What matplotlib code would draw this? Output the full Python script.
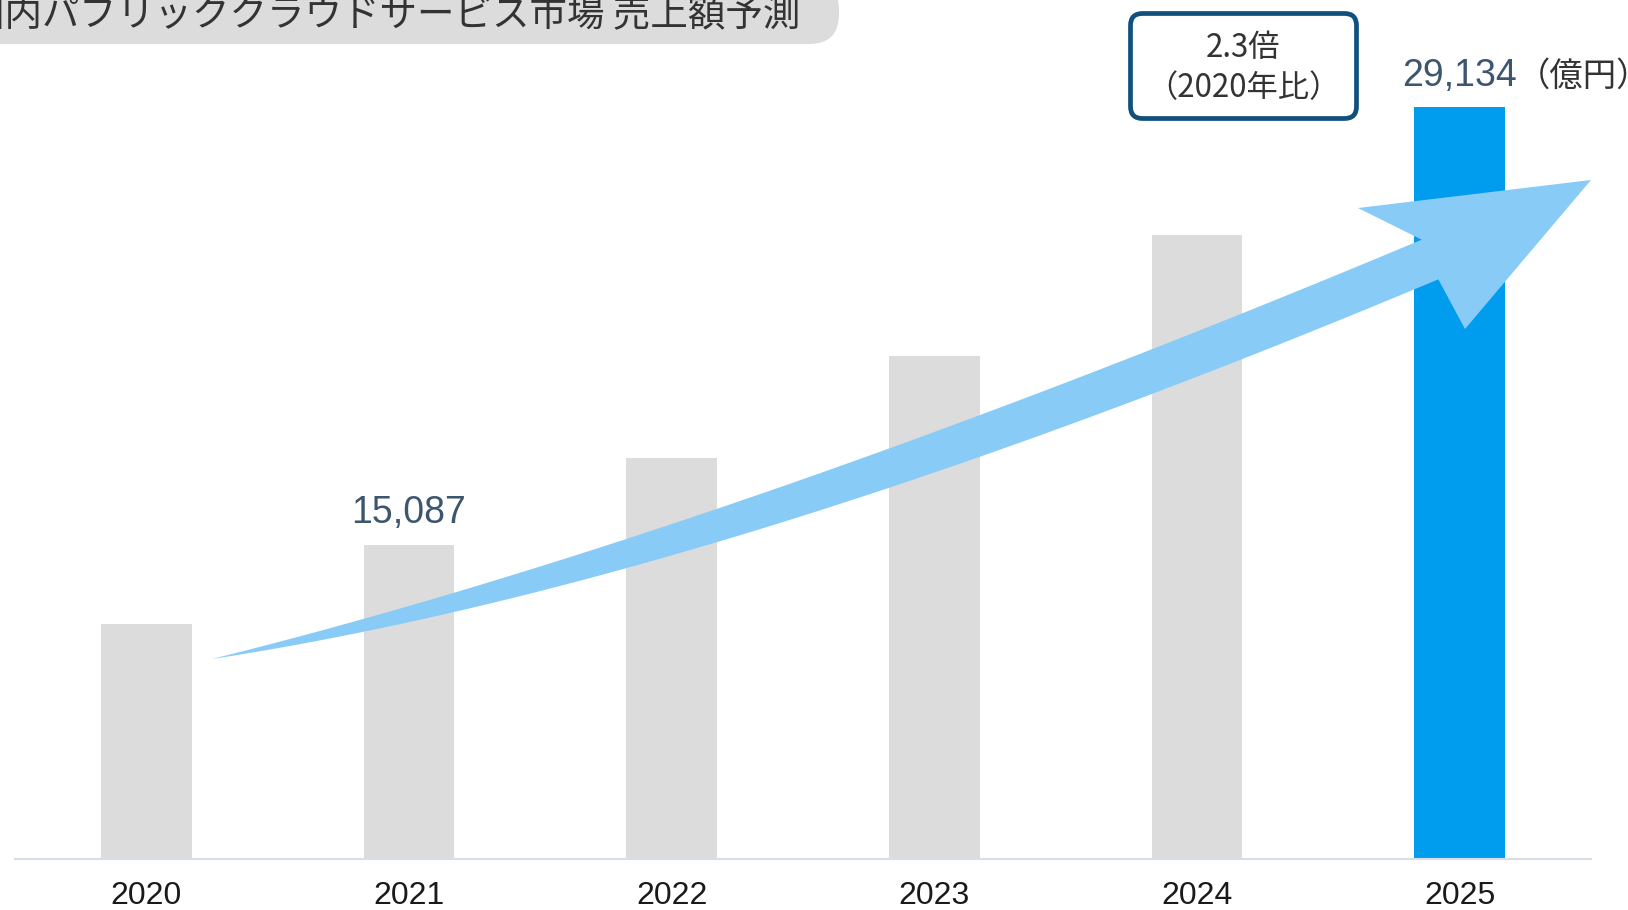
import numpy as np
import matplotlib.pyplot as plt
from matplotlib.patches import Polygon, FancyBboxPatch

plt.rcParams['font.family'] = ['Liberation Sans', 'Noto Sans CJK JP', 'DejaVu Sans']
cjk = ['Noto Sans CJK JP', 'DejaVu Sans']

years = ['2020', '2021', '2022', '2023', '2024', '2025']
sales = [12550, 15087, 17870, 21140, 25030, 29134]
value_labels = {1: '15,087', 5: '29,134'}
bar_colors = ['#dcdcdc'] * 5 + ['#009def']
title = '国内パブリッククラウドサービス市場 売上額予測'
unit = '（億円）'
ratio_text = ['2.3倍', '（2020年比）']

W, H = 1628, 910
fig = plt.figure(figsize=(W / 100, H / 100), dpi=100)

# Bar chart
ax = fig.add_axes([15 / W, 51 / H, 1576 / W, 859 / H])
x = np.arange(len(years))
ax.bar(x, sales, width=0.344, color=bar_colors, zorder=2)
ax.set_xlim(-0.5, 5.5)
ax.set_ylim(5000, 32570)
for s in ['top', 'right', 'left']:
    ax.spines[s].set_visible(False)
ax.spines['bottom'].set_color('#d5dfe9')
ax.spines['bottom'].set_linewidth(1.5)
ax.spines['bottom'].set_zorder(3)
ax.set_yticks([])
ax.set_xticks(x, years)
ax.tick_params(axis='x', length=0, pad=16, labelsize=23, labelcolor='#1a1a1a')

for i, txt in value_labels.items():
    ax.annotate(txt, (x[i], sales[i]), xytext=(0, 15.5), textcoords='offset points',
                ha='center', va='baseline', fontsize=27, color='#3d566e')
ax.annotate(unit, (x[-1], sales[-1]), xytext=(41, 15.5), textcoords='offset points',
            ha='left', va='baseline', fontsize=24, color='#333333', family=cjk)

# Overlay in pixel units for the decorations
ov = fig.add_axes([0, 0, 1, 1], zorder=3)
ov.set_xlim(0, W)
ov.set_ylim(H, 0)
ov.axis('off')

# title pill
ov.add_patch(FancyBboxPatch((-80, -20), 919, 64, boxstyle='round,pad=0,rounding_size=30',
                            fc='#dcdcdc', ec='none'))
ov.text(800, 26, title, ha='right', va='baseline', fontsize=27, color='#333333', family=cjk)

# growth box
ov.add_patch(FancyBboxPatch((1130.5, 13.5), 226, 105, boxstyle='round,pad=0,rounding_size=12',
                            fc='white', ec='#10507d', lw=3.4))
ov.text(1243, 57, ratio_text[0], ha='center', va='baseline', fontsize=22.5, color='#333333', family=cjk)
ov.text(1243, 97, ratio_text[1], ha='center', va='baseline', fontsize=22.5, color='#333333', family=cjk)

# curved arrow (tapered bezier shaft + head)
p0, p1, p2 = np.array([212, 659]), np.array([721, 557]), np.array([1430, 259.5])
t = np.linspace(0, 1, 200)[:, None]
curve = (1 - t) ** 2 * p0 + 2 * (1 - t) * t * p1 + t ** 2 * p2
deriv = 2 * (1 - t) * (p1 - p0) + 2 * t * (p2 - p1)
deriv = deriv / np.linalg.norm(deriv, axis=1, keepdims=True)
normal = np.column_stack([deriv[:, 1], -deriv[:, 0]])
half = 21.5 * (1 - (1 - t) ** 2.2)
upper = curve + half * normal
lower = curve - half * normal
head = np.array([[1358, 208], [1591, 180], [1465, 329]])
pts = np.vstack([upper, head, lower[::-1]])
ov.add_patch(Polygon(pts, closed=True, fc='#88cbf6', ec='none'))

plt.savefig('out.png', dpi=100)
